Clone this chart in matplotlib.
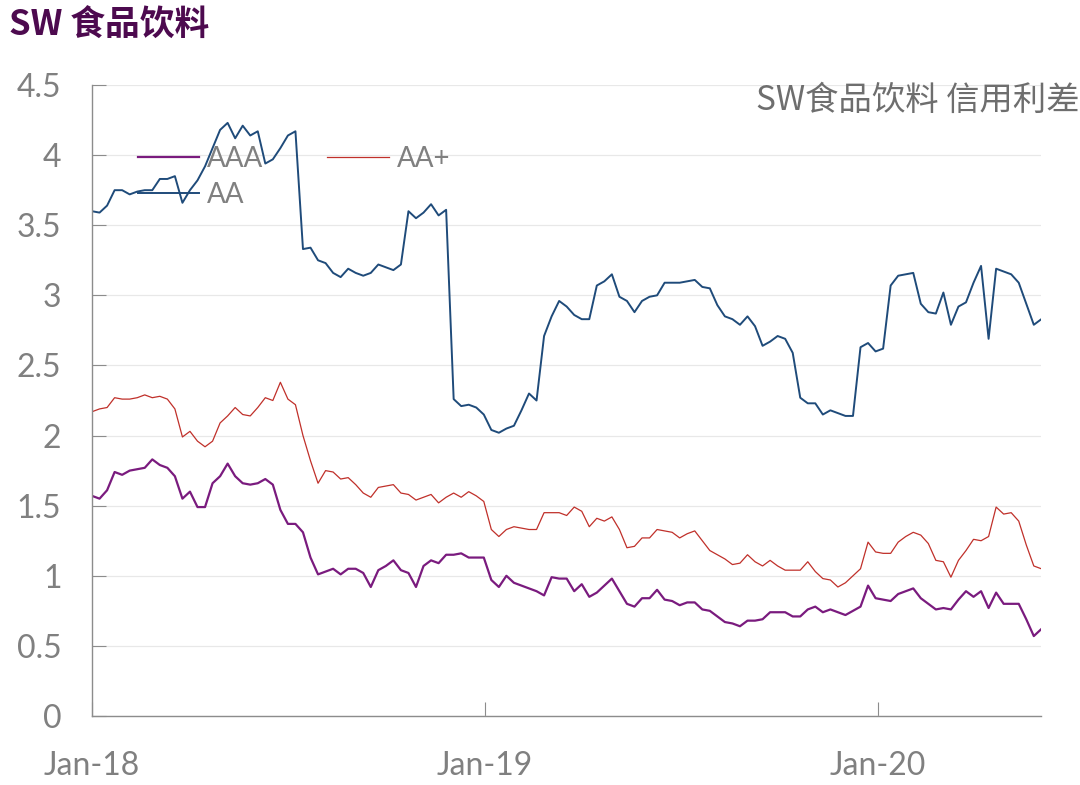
import numpy as np
import pandas as pd
import matplotlib
matplotlib.use("Agg")
import matplotlib.pyplot as plt
import matplotlib.dates as mdates

plt.rcParams['font.family'] = ['Lato', 'Noto Sans CJK SC', 'DejaVu Sans']

# weekly observations, Jan 2018 - May 2020
dates = pd.date_range("2018-01-01", periods=127, freq="7D")

aaa = [1.57, 1.55, 1.61, 1.74, 1.72, 1.75, 1.76, 1.77, 1.83, 1.79,
       1.77, 1.71, 1.55, 1.60, 1.49, 1.49, 1.66, 1.71, 1.80, 1.71,
       1.66, 1.65, 1.66, 1.69, 1.65, 1.47, 1.37, 1.37, 1.31, 1.13,
       1.01, 1.03, 1.05, 1.01, 1.05, 1.05, 1.02, 0.92, 1.04, 1.07,
       1.11, 1.04, 1.02, 0.92, 1.07, 1.11, 1.09, 1.15, 1.15, 1.16,
       1.13, 1.13, 1.13, 0.97, 0.92, 1.00, 0.95, 0.93, 0.91, 0.89,
       0.86, 0.99, 0.98, 0.98, 0.89, 0.94, 0.85, 0.88, 0.93, 0.98,
       0.89, 0.80, 0.78, 0.84, 0.84, 0.90, 0.83, 0.82, 0.79, 0.81,
       0.81, 0.76, 0.75, 0.71, 0.67, 0.66, 0.64, 0.68, 0.68, 0.69,
       0.74, 0.74, 0.74, 0.71, 0.71, 0.76, 0.78, 0.74, 0.76, 0.74,
       0.72, 0.75, 0.78, 0.93, 0.84, 0.83, 0.82, 0.87, 0.89, 0.91,
       0.84, 0.80, 0.76, 0.77, 0.76, 0.83, 0.89, 0.85, 0.89, 0.77,
       0.88, 0.80, 0.80, 0.80, 0.69, 0.57, 0.62]

aa_plus = [2.17, 2.19, 2.20, 2.27, 2.26, 2.26, 2.27, 2.29, 2.27, 2.28,
           2.26, 2.19, 1.99, 2.03, 1.96, 1.92, 1.96, 2.09, 2.14, 2.20,
           2.15, 2.14, 2.20, 2.27, 2.25, 2.38, 2.26, 2.22, 2.00, 1.82,
           1.66, 1.75, 1.74, 1.69, 1.70, 1.65, 1.59, 1.56, 1.63, 1.64,
           1.65, 1.59, 1.58, 1.54, 1.56, 1.58, 1.52, 1.56, 1.59, 1.56,
           1.60, 1.57, 1.53, 1.33, 1.28, 1.33, 1.35, 1.34, 1.33, 1.33,
           1.45, 1.45, 1.45, 1.43, 1.49, 1.46, 1.35, 1.41, 1.39, 1.42,
           1.33, 1.20, 1.21, 1.27, 1.27, 1.33, 1.32, 1.31, 1.27, 1.30,
           1.32, 1.25, 1.18, 1.15, 1.12, 1.08, 1.09, 1.15, 1.10, 1.07,
           1.11, 1.07, 1.04, 1.04, 1.04, 1.10, 1.03, 0.98, 0.97, 0.92,
           0.95, 1.00, 1.05, 1.24, 1.17, 1.16, 1.16, 1.24, 1.28, 1.31,
           1.29, 1.23, 1.11, 1.10, 0.99, 1.11, 1.18, 1.26, 1.25, 1.28,
           1.49, 1.44, 1.45, 1.39, 1.22, 1.07, 1.05]

aa = [3.60, 3.59, 3.64, 3.75, 3.75, 3.72, 3.74, 3.75, 3.75, 3.83,
      3.83, 3.85, 3.66, 3.75, 3.82, 3.92, 4.05, 4.18, 4.23, 4.12,
      4.21, 4.14, 4.17, 3.94, 3.97, 4.05, 4.14, 4.17, 3.33, 3.34,
      3.25, 3.23, 3.16, 3.13, 3.19, 3.16, 3.14, 3.16, 3.22, 3.20,
      3.18, 3.22, 3.60, 3.55, 3.59, 3.65, 3.57, 3.61, 2.26, 2.21,
      2.22, 2.20, 2.15, 2.04, 2.02, 2.05, 2.07, 2.18, 2.30, 2.25,
      2.71, 2.85, 2.96, 2.92, 2.86, 2.83, 2.83, 3.07, 3.10, 3.15,
      2.99, 2.96, 2.88, 2.96, 2.99, 3.00, 3.09, 3.09, 3.09, 3.10,
      3.11, 3.06, 3.05, 2.93, 2.85, 2.83, 2.79, 2.85, 2.78, 2.64,
      2.67, 2.71, 2.69, 2.59, 2.27, 2.23, 2.23, 2.15, 2.18, 2.16,
      2.14, 2.14, 2.63, 2.66, 2.60, 2.62, 3.07, 3.14, 3.15, 3.16,
      2.94, 2.88, 2.87, 3.02, 2.79, 2.92, 2.95, 3.09, 3.21, 2.69,
      3.19, 3.17, 3.15, 3.09, 2.94, 2.79, 2.83]

yticks = [0, 0.5, 1, 1.5, 2, 2.5, 3, 3.5, 4, 4.5]
ytick_labels = ['0', '0.5', '1', '1.5', '2', '2.5', '3', '3.5', '4', '4.5']

grey = '#808080'

fig = plt.figure(figsize=(10.8, 7.85), dpi=100)
ax = fig.add_axes([0.0852, 0.0879, 0.879, 0.8038])

l_aaa, = ax.plot(dates, aaa, color='#7a1b7e', lw=1.6, label='AAA')
l_aap, = ax.plot(dates, aa_plus, color='#c0302a', lw=0.9, label='AA+')
l_aa, = ax.plot(dates, aa, color='#1f4b7a', lw=1.4, label='AA')

ax.set_ylim(0, 4.5)
ax.set_xlim(dates[0], dates[-1])
ax.set_yticks(yticks)
ax.set_yticklabels(ytick_labels)
ax.xaxis.set_major_locator(mdates.YearLocator())
ax.xaxis.set_major_formatter(mdates.DateFormatter('%b-%y'))

ax.grid(axis='y', color='#e8e8e8', lw=0.9)
ax.set_axisbelow(True)
for s in ['top', 'right']:
    ax.spines[s].set_visible(False)
for s in ['left', 'bottom']:
    ax.spines[s].set_color('#8c8c8c')
    ax.spines[s].set_linewidth(1.0)

ax.tick_params(axis='both', direction='in', length=10, color='#8c8c8c',
               labelsize=23, labelcolor=grey)
ax.tick_params(axis='y', pad=22)
ax.tick_params(axis='x', pad=25)

leg = ax.legend(handles=[l_aaa, l_aa, l_aap], ncol=2, frameon=False,
                fontsize=20, labelcolor=grey, handlelength=2.2,
                handletextpad=0.3, columnspacing=2.3, labelspacing=0.35,
                loc='upper left', bbox_to_anchor=(0.022, 0.943))

fig.text(0.008, 0.968, 'SW 食品饮料', fontsize=25, fontweight='bold',
         color='#4d0a4f', ha='left', va='center',
         family=['Noto Sans CJK SC', 'DejaVu Sans'])
fig.text(1.0, 0.872, 'SW食品饮料 信用利差', fontsize=24, color='#6e6e6e',
         ha='right', va='center', family=['Noto Sans CJK SC', 'DejaVu Sans'])

fig.savefig('out.png', dpi=100)
